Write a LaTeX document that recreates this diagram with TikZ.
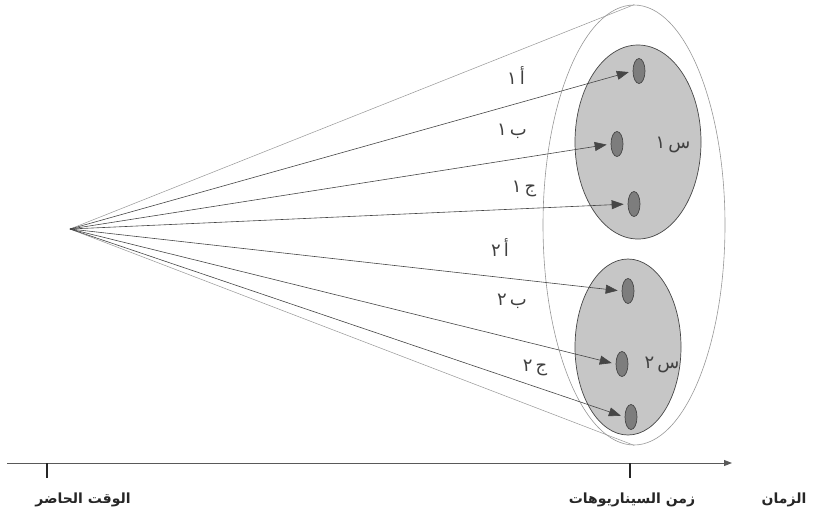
\documentclass[tikz,border=0pt]{standalone}
\usepackage{fontspec}
\usetikzlibrary{arrows.meta,shapes.geometric}
\TeXXeTstate=1
\newfontfamily\arabicfont[Script=Arabic]{DejaVu Sans}
\definecolor{discfill}{RGB}{198,198,198}
\definecolor{seedfill}{RGB}{125,125,125}
\definecolor{edgedark}{RGB}{70,70,70}
\definecolor{conegray}{RGB}{150,150,150}
\begin{document}
\begin{tikzpicture}[x=1pt,y=-1pt,
  envelope/.style={ellipse,draw=conegray,line width=0.6pt,inner sep=0pt},
  scenario/.style={ellipse,draw=edgedark,line width=0.7pt,fill=discfill,inner sep=0pt},
  seed/.style={ellipse,draw=edgedark,line width=0.7pt,fill=seedfill,inner sep=0pt,
    minimum width=12pt,minimum height=25pt},
  coneline/.style={draw=conegray,line width=0.5pt},
  ray/.style={draw=edgedark,line width=0.6pt,
    -{Triangle[length=12pt,width=9pt]},shorten >=4pt},
  tag/.style={font=\arabicfont\fontsize{18}{22}\selectfont,text=black!75},
  axislabel/.style={font=\arabicfont\bfseries\fontsize{14}{17}\selectfont,text=black!85},
  tick/.style={draw=black!85,line width=1.3pt}]
\useasboundingbox (0,0) rectangle (813,523);

% envelope of all scenarios
\node[envelope,minimum width=182pt,minimum height=440pt] (outer) at (634,225) {};
\coordinate (apex) at (70,229);
\draw[coneline] (apex) -- (outer.north);
\draw[coneline] (apex) -- (outer.south);

% scenario discs
\node[scenario,minimum width=126pt,minimum height=194pt] (s1) at (638,142) {};
\node[scenario,minimum width=106pt,minimum height=176pt] (s2) at (628,347) {};

% individual outcomes
\node[seed] (a1) at (639,71) {};
\node[seed] (b1) at (617,144) {};
\node[seed] (c1) at (634,204) {};
\node[seed] (a2) at (628,291) {};
\node[seed] (b2) at (622,364) {};
\node[seed] (c2) at (631,417) {};

% rays from the present
\foreach \t in {a1,b1,c1,a2,b2,c2}
  \draw[ray] (apex) -- (\t.west);

% outcome labels
\node[tag] (la1) at (516,76) {\beginR أ\,١\endR};
\node[tag] (lb1) at (512,131) {\beginR ب\,١\endR};
\node[tag] (lc1) at (524,189) {\beginR ج\,١\endR};
\node[tag] (la2) at (500,248) {\beginR أ\,٢\endR};
\node[tag] (lb2) at (512,301) {\beginR ب\,٢\endR};
\node[tag] (lc2) at (535,368) {\beginR ج\,٢\endR};
\node[tag] (ls1) at (673,145) {\beginR س\,١\endR};
\node[tag] (ls2) at (662,365) {\beginR س\,٢\endR};

% time axis
\coordinate (tstart) at (7,463);
\coordinate (tend) at (732,463);
\draw[draw=black!65,line width=0.9pt,-{Triangle[length=8pt,width=6pt]}] (tstart) -- (tend);
\coordinate (now) at (47,463);
\coordinate (nowend) at (47,478);
\coordinate (scen) at (630,463);
\coordinate (scenend) at (630,478);
\draw[tick] (now) -- (nowend);
\draw[tick] (scen) -- (scenend);

\node[axislabel] (lnow) at (83,500) {\beginR الوقت الحاضر\endR};
\node[axislabel] (lscen) at (632,500) {\beginR زمن السيناريوهات\endR};
\node[axislabel] (ltime) at (784,500) {\beginR الزمان\endR};
\end{tikzpicture}
\end{document}
